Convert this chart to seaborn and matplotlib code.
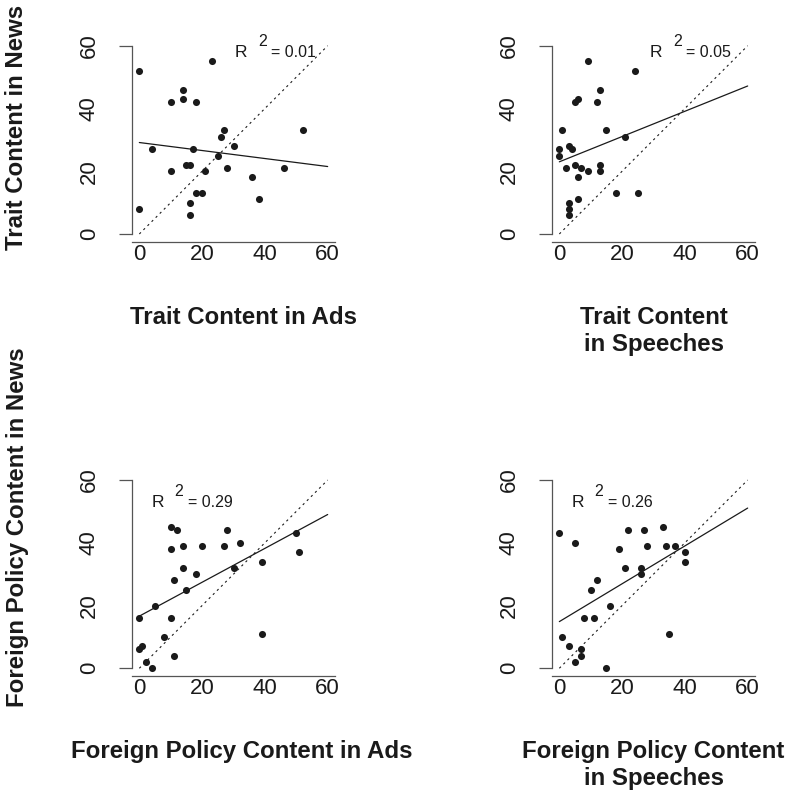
import numpy as np
import pandas as pd
import matplotlib
matplotlib.use("Agg")
import matplotlib.pyplot as plt
from matplotlib.transforms import offset_copy
import seaborn as sns

# ---- data -------------------------------------------------------------
trait_ads = [0, 23, 14, 14, 10, 18, 52, 27, 26, 30, 4, 17, 25, 15, 16, 10, 21, 28, 46, 36, 18, 20, 38, 16, 0, 16]
trait_news_vs_ads = [52, 55, 46, 43, 42, 42, 33, 33, 31, 28, 27, 27, 25, 22, 22, 20, 20, 21, 21, 18, 13, 13, 11, 10, 8, 6]

trait_speeches = [9, 24, 13, 5, 6, 12, 1, 15, 21, 3, 4, 0, 0, 2, 5, 7, 9, 6, 13, 13, 18, 25, 6, 3, 3, 3]
trait_news_vs_speeches = [55, 52, 46, 42, 43, 42, 33, 33, 31, 28, 27, 27, 25, 21, 22, 21, 20, 18, 22, 20, 13, 13, 11, 10, 8, 6]

fp_ads = [10, 12, 28, 50, 32, 10, 14, 20, 27, 51, 39, 14, 30, 18, 11, 15, 5, 0, 10, 8, 39, 1, 0, 11, 2, 4]
fp_news_vs_ads = [45, 44, 44, 43, 40, 38, 39, 39, 39, 37, 34, 32, 32, 30, 28, 25, 20, 16, 16, 10, 11, 7, 6, 4, 2, 0]

fp_speeches = [0, 5, 22, 27, 33, 19, 28, 34, 37, 40, 40, 21, 26, 26, 12, 10, 16, 8, 11, 1, 35, 3, 7, 7, 5, 15]
fp_news_vs_speeches = [43, 40, 44, 44, 45, 38, 39, 39, 39, 37, 34, 32, 32, 30, 28, 25, 20, 16, 16, 10, 11, 7, 6, 4, 2, 0]

r2_values = ["0.01", "0.05", "0.29", "0.26"]
x_titles = ["Trait Content in Ads", "Trait Content\nin Speeches",
            "Foreign Policy Content in Ads", "Foreign Policy Content\nin Speeches"]
row_titles = ["Trait Content in News", "Foreign Policy Content in News"]
tick_values = [0, 20, 40, 60]
identity_ends = [0, 60]

# ---- style ------------------------------------------------------------
sns.set_theme(style="white")
plt.rcParams["font.family"] = ["Liberation Sans", "DejaVu Sans"]
INK = "#1a1a1a"
SPINE = "#555555"

W, H = 787, 793
fig = plt.figure(figsize=(W / 100, H / 100), dpi=100)

# axes boxes in pixels: left, top, width, height
boxes = [(131.8, 38.2), (551.8, 38.2), (131.8, 472.5), (551.8, 472.5)]
AW, AH = 203.4, 203.3

panels = [
    (trait_ads, trait_news_vs_ads),
    (trait_speeches, trait_news_vs_speeches),
    (fp_ads, fp_news_vs_ads),
    (fp_speeches, fp_news_vs_speeches),
]
r2_pos = [(30.5, 56.5), (28.9, 56.5), (3.9, 51.5), (3.9, 51.5)]
xlabel_x = [0.547, 0.5, 0.54, 0.5]
TITLE_SIZE = 17.3

for i, ((xs, ys), (left, top)) in enumerate(zip(panels, boxes)):
    ax = fig.add_axes([left / W, 1 - (top + AH) / H, AW / W, AH / H])
    df = pd.DataFrame({"x": xs, "y": ys})
    ax.set_xlim(identity_ends)
    ax.set_ylim(identity_ends)
    sns.regplot(data=df, x="x", y="y", ax=ax, ci=None, truncate=False,
                scatter_kws=dict(s=26, color=INK, linewidths=0, alpha=1),
                line_kws=dict(color=INK, lw=0.9))
    sns.lineplot(x=identity_ends, y=identity_ends, ax=ax, color=INK,
                 lw=0.8, linestyle=(0, (2, 3.2)))
    ax.set_xlim(-2.4, 62.4)
    ax.set_ylim(-2.4, 62.4)

    for side in ("top", "right"):
        ax.spines[side].set_visible(False)
    for side in ("left", "bottom"):
        ax.spines[side].set_color(SPINE)
        ax.spines[side].set_linewidth(0.9)
    ax.spines["left"].set_bounds(0, 60)

    ax.set_xticks(tick_values)
    ax.set_yticks(tick_values)
    ax.set_xticklabels([str(t) for t in tick_values])
    ax.set_yticklabels([str(t) for t in tick_values], rotation=90, va="center")
    ax.tick_params(axis="x", length=0, pad=1.5, labelsize=16, labelcolor=INK)
    ax.tick_params(axis="y", length=0, pad=23, labelsize=16, labelcolor=INK)
    # end caps of the y axis line
    ax.yaxis.remove_overlapping_locs = False
    ax.set_yticks([0, 60], minor=True)
    ax.tick_params(axis="y", which="minor", length=9.6, width=0.9,
                   color=SPINE, left=True, direction="out")

    ax.set_xlabel(x_titles[i], fontsize=TITLE_SIZE, fontweight="bold",
                  color=INK, linespacing=1.25)
    ax.xaxis.set_label_coords(xlabel_x[i], -0.315)
    ax.set_ylabel("")

    rx, ry = r2_pos[i]
    ax.text(rx, ry, "R", fontsize=12.5, color=INK, ha="left", va="baseline")
    ax.text(rx, ry, "2", fontsize=11.5, color=INK, ha="left", va="baseline",
            transform=offset_copy(ax.transData, fig=fig, x=23, y=10.5, units="dots"))
    ax.text(rx, ry, f"= {r2_values[i]}", fontsize=11.5, color=INK, ha="left",
            va="baseline",
            transform=offset_copy(ax.transData, fig=fig, x=36, y=0, units="dots"))

fig.text(17 / W, 1 - 127 / H, row_titles[0], rotation=90, ha="center",
         va="center", fontsize=TITLE_SIZE, fontweight="bold", color=INK)
fig.text(17.5 / W, 1 - 527 / H, row_titles[1], rotation=90, ha="center",
         va="center", fontsize=TITLE_SIZE, fontweight="bold", color=INK)

fig.savefig("out.png", dpi=100, facecolor="white")
